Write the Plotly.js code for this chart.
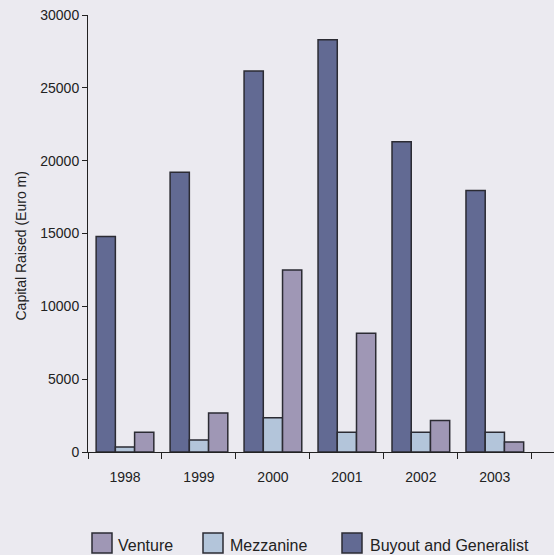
<!DOCTYPE html>
<html>
<head>
<meta charset="utf-8">
<script src="https://cdn.plot.ly/plotly-3.0.1.min.js"></script>
<style>html,body{margin:0;padding:0;background:#ebeaf0;}</style>
</head>
<body>
<div id="chart" style="width:554px;height:555px;"></div>
<script>
const years = ["1998", "1999", "2000", "2001", "2002", "2003"];
const buyout = [14800, 19200, 26150, 28300, 21300, 17950];
const mezzanine = [350, 830, 2350, 1350, 1350, 1350];
const venture = [1350, 2680, 12500, 8150, 2170, 680];
const seriesNames = ["Buyout and Generalist", "Mezzanine", "Venture"];
const seriesColors = ["#626a93", "#b3c5da", "#9f97b5"];
const yTitle = "Capital Raised (Euro m)";

const line = {color: "#2b2b33", width: 1.5};
const values = [buyout, mezzanine, venture];
const traces = values.map((v, i) => ({
  type: "bar", name: seriesNames[i], x: years, y: v,
  marker: {color: seriesColors[i], line: line}
}));

// Legend (drawn in paper coordinates, order: Venture, Mezzanine, Buyout)
const plotL = 88, plotW = 466, plotT = 15, plotH = 437;
const px = v => (v - plotL) / plotW;
const py = v => (plotT + plotH - v) / plotH;
const legendItems = [
  {idx: 2, box: 92, text: 116},
  {idx: 1, box: 203, text: 228},
  {idx: 0, box: 342, text: 368}
];
const shapes = legendItems.map(it => ({
  type: "rect", xref: "paper", yref: "paper",
  x0: px(it.box), x1: px(it.box + 20), y0: py(553), y1: py(533),
  fillcolor: seriesColors[it.idx], line: {color: "#2b2b33", width: 1.5}
}));
const annotations = legendItems.map(it => ({
  xref: "paper", yref: "paper", x: px(it.text), y: py(545),
  xanchor: "left", yanchor: "middle", showarrow: false,
  text: seriesNames[it.idx], font: {size: 16, color: "#222"}
}));
annotations.push({
  xref: "paper", yref: "paper", x: px(20), y: py(246.5),
  xanchor: "center", yanchor: "middle", showarrow: false, textangle: -90,
  text: yTitle, font: {size: 14, color: "#222"}
});

const layout = {
  width: 554, height: 555,
  margin: {l: 88, r: 0, t: 15, b: 103},
  paper_bgcolor: "#ebeaf0", plot_bgcolor: "#ebeaf0",
  font: {family: "Liberation Sans, Arial, sans-serif", color: "#222", size: 14},
  barmode: "group", bargap: 0.22, bargroupgap: 0,
  showlegend: false,
  shapes: shapes, annotations: annotations,
  xaxis: {type: "category", range: [-0.5, 5.8], tickson: "boundaries",
          ticks: "outside", ticklen: 6, tickcolor: "#222", tickwidth: 1,
          showline: true, linecolor: "#222", linewidth: 1,
          showgrid: false, zeroline: false, ticklabelstandoff: 12,
          tickfont: {size: 14}},
  yaxis: {range: [0, 30000], dtick: 5000, tickformat: "d",
          ticks: "outside", ticklen: 5, tickcolor: "#222", tickwidth: 1,
          showline: true, linecolor: "#222", linewidth: 1,
          showgrid: false, zeroline: false, tickfont: {size: 14}}
};

Plotly.newPlot("chart", traces, layout, {displayModeBar: false, staticPlot: true});
</script>
</body>
</html>
